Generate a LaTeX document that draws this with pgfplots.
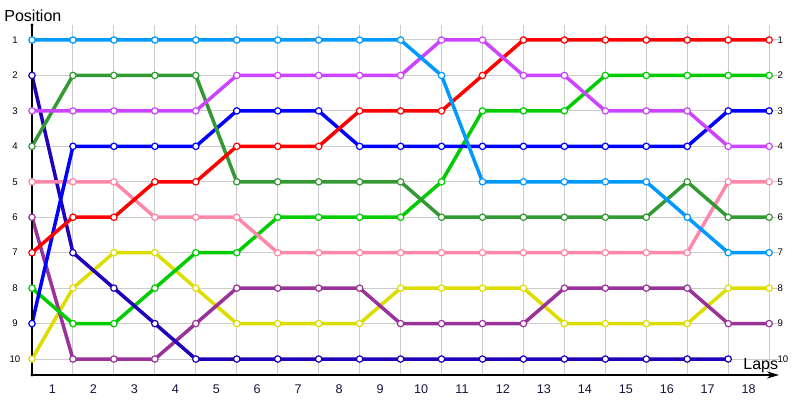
\documentclass[border=0pt]{standalone}
\usepackage{fontspec}
\setmainfont{Liberation Sans}
\usepackage{pgfplots}
\pgfplotsset{compat=1.18}
\usetikzlibrary{arrows.meta}
\definecolor{cLB}{HTML}{0099FF}
\definecolor{cRed}{HTML}{FF0000}
\definecolor{cMag}{HTML}{CC44FF}
\definecolor{cDG}{HTML}{339933}
\definecolor{cBG}{HTML}{00CC00}
\definecolor{cBlue}{HTML}{0000FF}
\definecolor{cPink}{HTML}{FF88AA}
\definecolor{cNavy}{HTML}{2200BB}
\definecolor{cYel}{HTML}{DDDD00}
\definecolor{cPur}{HTML}{993399}
\definecolor{cTxt}{HTML}{14143C}
\begin{document}
\begin{tikzpicture}
\begin{axis}[
  at={(16pt,12.5pt)}, anchor=south west,
  scale only axis, width=373.5pt, height=175pt,
  xmin=0, xmax=18.24, ymin=0.577, ymax=10.45, y dir=reverse,
  axis line style={draw=none},
  clip=false,
  /pgf/number format/assume math mode=true,
  xtick={0.5,1.5,...,17.5},
  xticklabels={1,2,3,4,5,6,7,8,9,10,11,12,13,14,15,16,17,18},
  minor xtick={1,2,...,18},
  ytick={1,2,...,10},
  major tick length=0pt, minor tick length=0pt,
  xminorgrids=true, ymajorgrids=true,
  major grid style={color=black!20, line width=0.5pt},
  minor grid style={color=black!20, line width=0.5pt},
  xticklabel style={font=\fontsize{6.3}{6.5}\selectfont, text=cTxt, anchor=center, yshift=-7pt, inner sep=0pt},
  yticklabel style={font=\fontsize{4.8}{5}\selectfont, anchor=center, xshift=-8.5pt, inner sep=0pt},
  every axis plot/.append style={line width=1.75pt, mark=*, mark size=1.6pt,
    mark options={fill=white, line width=0.6pt, solid}},
]
\addplot[cYel] coordinates {(0,10)(1,8)(2,7)(3,7)(4,8)(5,9)(6,9)(7,9)(8,9)(9,8)(10,8)(11,8)(12,8)(13,9)(14,9)(15,9)(16,9)(17,8)(18,8)};
\addplot[cPur] coordinates {(0,6)(1,10)(2,10)(3,10)(4,9)(5,8)(6,8)(7,8)(8,8)(9,9)(10,9)(11,9)(12,9)(13,8)(14,8)(15,8)(16,8)(17,9)(18,9)};
\addplot[cBG] coordinates {(0,8)(1,9)(2,9)(3,8)(4,7)(5,7)(6,6)(7,6)(8,6)(9,6)(10,5)(11,3)(12,3)(13,3)(14,2)(15,2)(16,2)(17,2)(18,2)};
\addplot[cNavy] coordinates {(0,2)(1,7)(2,8)(3,9)(4,10)(5,10)(6,10)(7,10)(8,10)(9,10)(10,10)(11,10)(12,10)(13,10)(14,10)(15,10)(16,10)(17,10)};
\addplot[cPink] coordinates {(0,5)(1,5)(2,5)(3,6)(4,6)(5,6)(6,7)(7,7)(8,7)(9,7)(10,7)(11,7)(12,7)(13,7)(14,7)(15,7)(16,7)(17,5)(18,5)};
\addplot[cBlue] coordinates {(0,9)(1,4)(2,4)(3,4)(4,4)(5,3)(6,3)(7,3)(8,4)(9,4)(10,4)(11,4)(12,4)(13,4)(14,4)(15,4)(16,4)(17,3)(18,3)};
\addplot[cDG] coordinates {(0,4)(1,2)(2,2)(3,2)(4,2)(5,5)(6,5)(7,5)(8,5)(9,5)(10,6)(11,6)(12,6)(13,6)(14,6)(15,6)(16,5)(17,6)(18,6)};
\addplot[cRed] coordinates {(0,7)(1,6)(2,6)(3,5)(4,5)(5,4)(6,4)(7,4)(8,3)(9,3)(10,3)(11,2)(12,1)(13,1)(14,1)(15,1)(16,1)(17,1)(18,1)};
\addplot[cMag] coordinates {(0,3)(1,3)(2,3)(3,3)(4,3)(5,2)(6,2)(7,2)(8,2)(9,2)(10,1)(11,1)(12,2)(13,2)(14,3)(15,3)(16,3)(17,4)(18,4)};
\addplot[cLB] coordinates {(0,1)(1,1)(2,1)(3,1)(4,1)(5,1)(6,1)(7,1)(8,1)(9,1)(10,2)(11,5)(12,5)(13,5)(14,5)(15,5)(16,6)(17,7)(18,7)};
\draw[black, line width=0.65pt, -{Stealth[length=6pt,width=3.5pt]}] (axis cs:0,10.45) -- (axis cs:18.24,10.45);
\draw[black, line width=0.65pt] (axis cs:0,10.45) -- (axis cs:0,0.577);
\fill[black] (axis cs:0,0.577) circle (0.8pt);
\fill[black] (axis cs:0,10.45) circle (0.8pt);
\pgfplotsinvokeforeach{1,...,10}{\node[anchor=west, inner sep=0pt, xshift=4pt, font=\fontsize{4.8}{5}\selectfont] at (axis cs:18,#1) {#1};}
\end{axis}
\node[anchor=west, inner sep=0pt, font=\fontsize{8}{9}\selectfont] at (2pt,192.3pt) {Position};
\node[anchor=base west, inner sep=0pt, font=\fontsize{8}{9}\selectfont] at (371.5pt,15pt) {Laps};
\pgfresetboundingbox
\path[use as bounding box] (0,0) rectangle (400pt,200pt);
\end{tikzpicture}
\end{document}
